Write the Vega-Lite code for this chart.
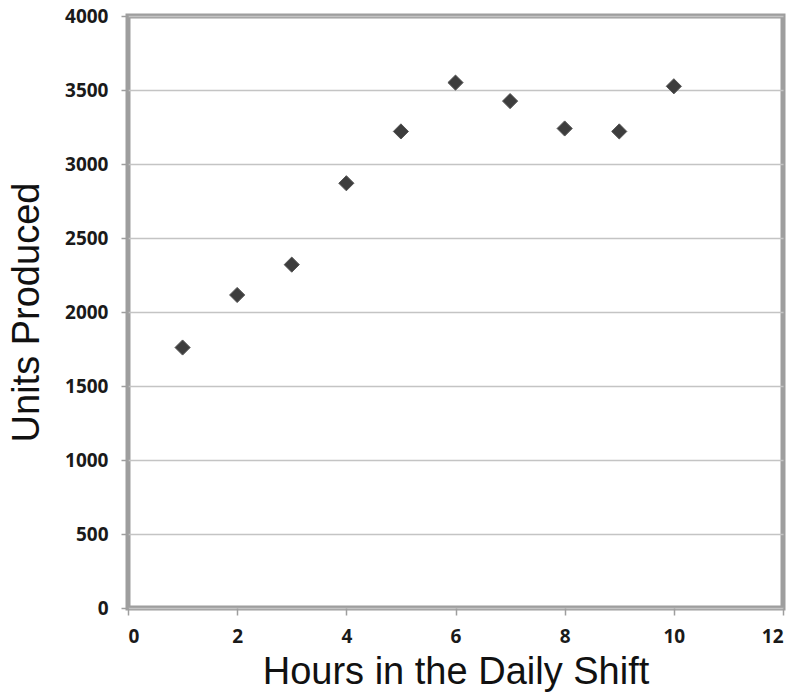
{
  "$schema": "https://vega.github.io/schema/vega-lite/v6.json",
  "autosize": "none",
  "width": 655,
  "height": 592,
  "padding": {"left": 128, "top": 16, "right": 15, "bottom": 92},
  "background": "white",
  "view": {"stroke": "#9e9e9e", "strokeWidth": 5},
  "config": {
    "font": "Liberation Sans",
    "axis": {
      "labelFont": "Open Sans",
      "labelFontWeight": "bold",
      "labelFontSize": 19,
      "labelColor": "#1a1a1a",
      "titleFont": "Liberation Sans",
      "titleFontWeight": "normal",
      "titleFontSize": 38,
      "titleColor": "#111",
      "domain": false,
      "tickColor": "#9e9e9e",
      "tickSize": 7,
      "tickWidth": 1.5
    }
  },
  "data": {
    "values": [
      {"hours": 1, "units": 1760},
      {"hours": 2, "units": 2115},
      {"hours": 3, "units": 2320},
      {"hours": 4, "units": 2870},
      {"hours": 5, "units": 3220},
      {"hours": 6, "units": 3550},
      {"hours": 7, "units": 3425},
      {"hours": 8, "units": 3240},
      {"hours": 9, "units": 3220},
      {"hours": 10, "units": 3525}
    ]
  },
  "mark": {"type": "point", "shape": "diamond", "filled": true, "size": 230, "color": "#3d3d3d", "opacity": 1, "stroke": "#555", "strokeWidth": 1},
  "encoding": {
    "x": {
      "field": "hours",
      "type": "quantitative",
      "scale": {"domain": [0, 12], "nice": false},
      "axis": {"title": "Hours in the Daily Shift", "format": "d", "values": [0, 2, 4, 6, 8, 10, 12], "grid": false, "labelPadding": 12, "titlePadding": 7}
    },
    "y": {
      "field": "units",
      "type": "quantitative",
      "scale": {"domain": [0, 4000], "nice": false},
      "axis": {"title": "Units Produced", "format": "d", "values": [0, 500, 1000, 1500, 2000, 2500, 3000, 3500, 4000], "grid": true, "gridColor": "#c4c4c4", "gridWidth": 1.5, "labelPadding": 13, "titlePadding": 18}
    }
  }
}
